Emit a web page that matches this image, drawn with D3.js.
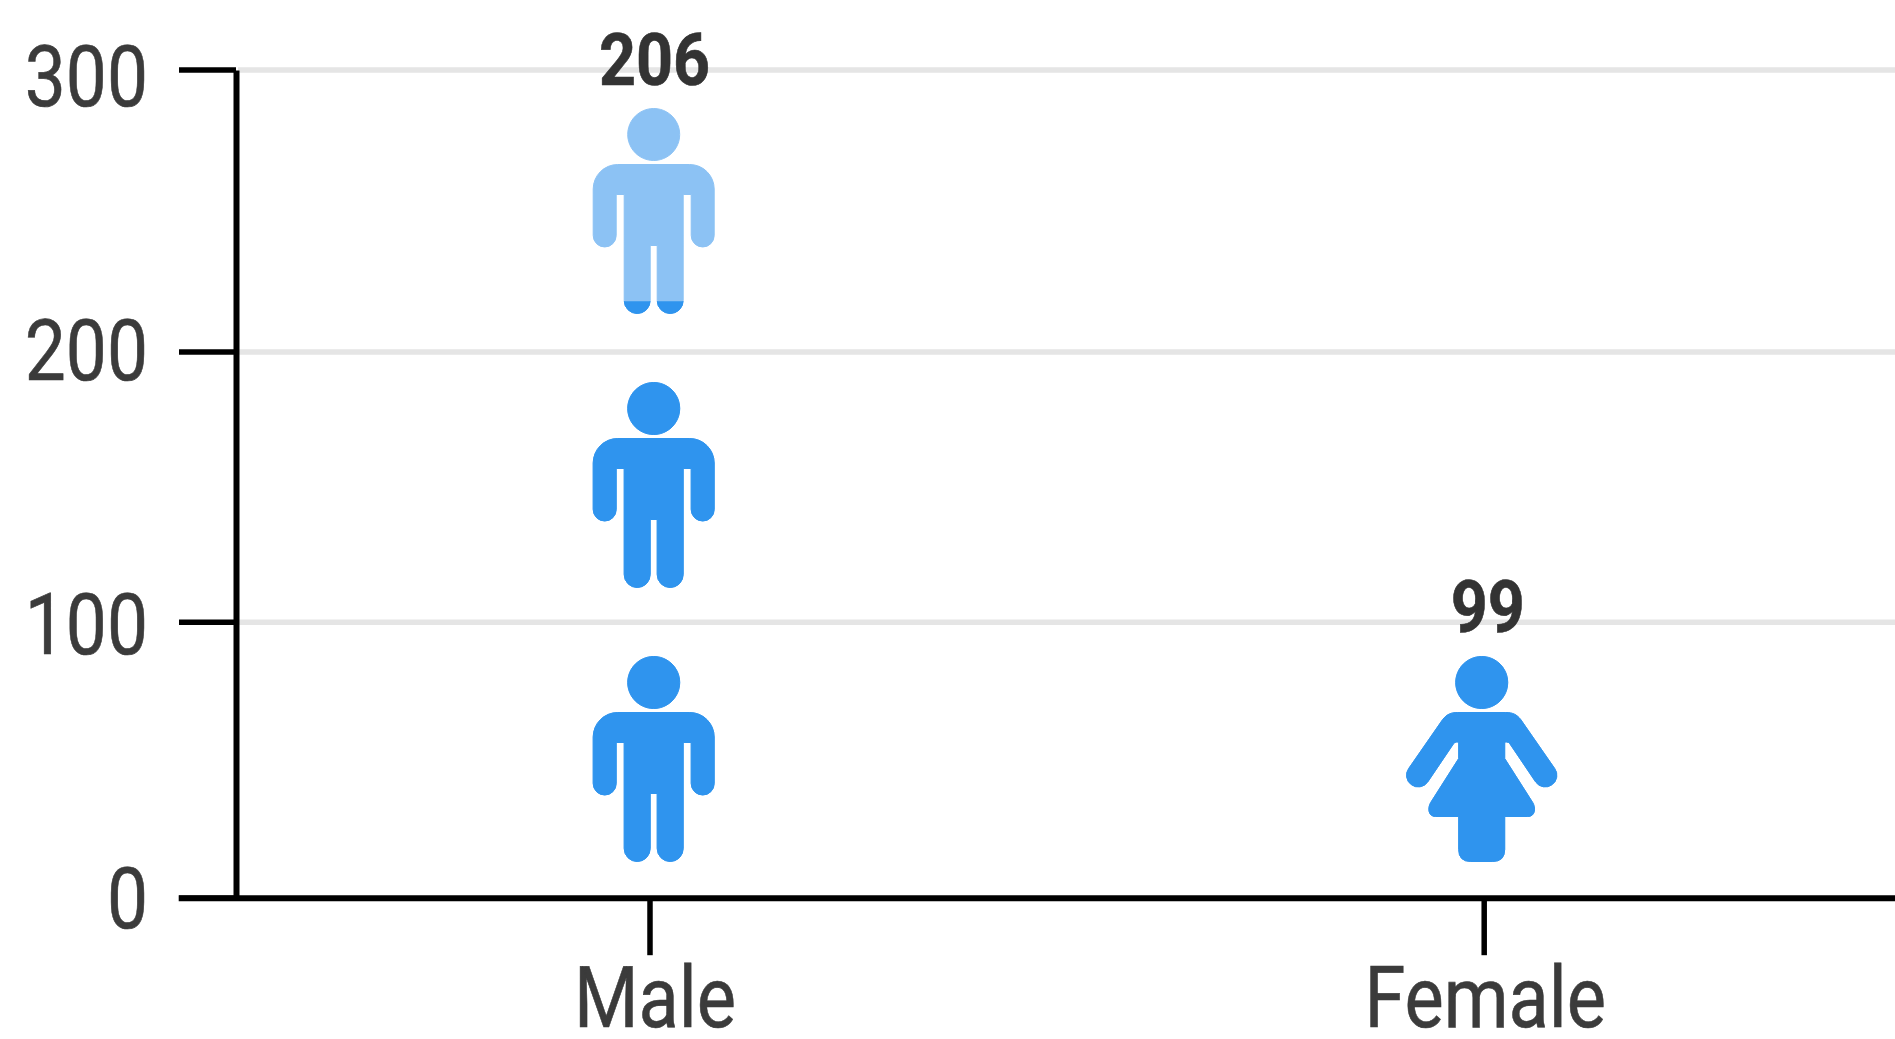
<!DOCTYPE html>
<html>
<head>
<meta charset="utf-8">
<script src="https://cdn.jsdelivr.net/npm/d3@7/dist/d3.min.js"></script>
<style>
html,body{margin:0;padding:0;background:#fff;overflow:hidden}
svg{display:block;filter:blur(0.7px)}
text{font-family:Roboto,sans-serif;fill:#3b3b3b}
</style>
</head>
<body>
<svg id="chart" width="1895" height="1039"></svg>
<script>
const categories = ["Male", "Female"];
const values = [206, 99];
const yTicks = [0, 100, 200, 300];

const svg = d3.select("#chart");
const dark = "#2f94ee", light = "#8cc2f4", grid = "#e5e5e5", ink = "#000";

const x = d3.scalePoint().domain(categories).range([649.5, 1483.7]);
// measured tick rows in the picture are slightly uneven, so the tick scale is piecewise
const y = d3.scaleLinear().domain(yTicks).range([898.2, 622.3, 351.9, 70]);
// icons and tick labels sit on an even 100-unit pitch
const pitch = d3.scaleLinear().domain([0, 100]).range([0, 274]);

// gridlines
svg.append("g").selectAll("line").data(yTicks.filter(d => d > 0)).join("line")
  .attr("x1", 238).attr("x2", 1895)
  .attr("y1", d => y(d)).attr("y2", d => y(d))
  .attr("stroke", grid).attr("stroke-width", 5.5);

// y axis
const yAxis = svg.append("g").attr("transform", "translate(236,0)")
  .call(d3.axisLeft(y).tickValues(yTicks).tickSize(57).tickSizeOuter(0));
yAxis.select(".domain").attr("stroke", ink).attr("stroke-width", 6);
yAxis.selectAll(".tick line").attr("stroke", ink).attr("stroke-width", 5.5);
yAxis.selectAll(".tick").attr("transform", d => `translate(0,${y(d)})`);
yAxis.selectAll(".tick text")
  .attr("x", null).attr("dy", null).attr("y", null)
  .attr("text-anchor", "end")
  .style("font-family", "Roboto").style("font-size", "86px").style("fill", "#3b3b3b")
  .style("stroke", "#3b3b3b").style("stroke-width", 0.6)
  .attr("transform", d => `translate(-88,${928 - pitch(d) - y(d)}) scale(0.85,1)`);

// x axis
const xAxis = svg.append("g").attr("transform", "translate(0,898.2)")
  .call(d3.axisBottom(x).tickSize(57).tickSizeOuter(0));
xAxis.select(".domain").attr("d", "M178.7,0H1895").attr("stroke", ink).attr("stroke-width", 6);
xAxis.selectAll(".tick line").attr("stroke", ink).attr("stroke-width", 5.5);
const labelShift = {Male: 5, Female: 1};
xAxis.selectAll(".tick text")
  .attr("y", null).attr("dy", null).attr("x", null)
  .attr("text-anchor", "middle")
  .style("font-family", "Roboto").style("font-size", "85px").style("fill", "#3b3b3b")
  .style("stroke", "#3b3b3b").style("stroke-width", 0.6)
  .attr("transform", d => `translate(${labelShift[d]},129) scale(0.87,1)`);

// icon shapes, local units: centre x = 0, top of head = 0, bottom = 205
const manPath = "M0,0a26,26 0 1 0 0.01,0Z" +
  "M-36,56H36a24.5,24.5 0 0 1 24.5,24.5V127a11.5,11.5 0 0 1 -23,0V86H29.5V192a13,13 0 0 1 -26,0V137H-3.5V192a13,13 0 0 1 -26,0V86H-37.5V127a11.5,11.5 0 0 1 -23,0V80.5a24.5,24.5 0 0 1 24.5,-24.5Z";
const womanPath = "M0,0a26,26 0 1 0 0.01,0Z" +
  "M-24,56H24C31,56 35,58 39,63L73,112A11.5,11.5 0 0 1 54,125.5L28,87Q27,85.5 25,85.5H23V102L51,146C54,151 54,160 46,160H23V193Q23,205 11,205H-11Q-23,205 -23,193V160H-46C-54,160 -54,151 -51,146L-23,102V85.5H-25Q-27,85.5 -28,87L-54,125.5A11.5,11.5 0 0 1 -73,112L-39,63C-35,58 -31,56 -24,56Z";
const shapes = {Male: manPath, Female: womanPath};
const iconShift = {Male: 4.2, Female: -2};
const iconHeight = 205;
const iconBottomGap = 36.7;
const defs = svg.append("defs");

const iconData = categories.flatMap((c, ci) =>
  d3.range(Math.ceil(values[ci] / 100)).map(i => ({
    c, i, fraction: Math.min(1, (values[ci] - i * 100) / 100)
  })));

const icons = svg.append("g").selectAll("g").data(iconData).join("g")
  .attr("transform", d => `translate(${x(d.c) + iconShift[d.c]},${y(0) - iconBottomGap - iconHeight - pitch(d.i * 100)})`);

icons.append("path").attr("d", d => shapes[d.c]).attr("fill", light)
  .attr("stroke", light).attr("stroke-width", 1);

defs.selectAll("clipPath").data(iconData).join("clipPath")
  .attr("id", d => `clip-${d.c}-${d.i}`)
  .append("rect")
  .attr("x", -100).attr("width", 200)
  .attr("y", d => iconHeight * (1 - d.fraction) - (d.fraction > 0.95 ? 3 : 0))
  .attr("height", d => iconHeight * d.fraction + (d.fraction > 0.95 ? 3 : 0) + 1);

icons.append("path").attr("d", d => shapes[d.c]).attr("fill", dark)
  .attr("stroke", dark).attr("stroke-width", 1)
  .attr("clip-path", d => `url(#clip-${d.c}-${d.i})`);

// value labels
const valueShift = {Male: 5, Female: 4};
const valueBase = {Male: 85, Female: 632};
svg.append("g").selectAll("text").data(categories).join("text")
  .attr("text-anchor", "middle")
  .attr("transform", d => `translate(${x(d) + valueShift[d]},${valueBase[d]}) scale(0.885,1)`)
  .style("font-size", "73px").style("font-weight", 700).style("fill", "#333")
  .style("stroke", "#333").style("stroke-width", 0.6)
  .text((d, i) => values[i]);
</script>
</body>
</html>
